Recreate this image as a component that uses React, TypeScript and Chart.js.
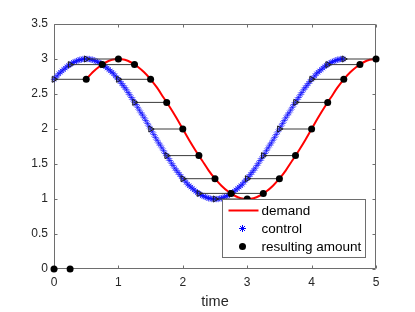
import React, { useEffect, useRef } from "react";
import { Chart, registerables } from "chart.js";

Chart.register(...registerables);

// ---- data ----
const controlStart = 0;
const controlStep = 0.025;
const controlValues = [
  2.71, 2.73, 2.76, 2.79, 2.81, 2.83, 2.85, 2.87, 2.89, 2.91,
  2.92, 2.94, 2.95, 2.96, 2.97, 2.98, 2.99, 2.99, 3.0, 3.0,
  3.0, 3.0, 3.0, 2.99, 2.99, 2.98, 2.97, 2.96, 2.95, 2.94,
  2.92, 2.91, 2.89, 2.87, 2.85, 2.83, 2.81, 2.79, 2.76, 2.73,
  2.71, 2.68, 2.65, 2.62, 2.59, 2.56, 2.52, 2.49, 2.45, 2.42,
  2.38, 2.35, 2.31, 2.27, 2.23, 2.2, 2.16, 2.12, 2.08, 2.04,
  2.0, 1.96, 1.92, 1.88, 1.84, 1.8, 1.77, 1.73, 1.69, 1.65,
  1.62, 1.58, 1.55, 1.51, 1.48, 1.44, 1.41, 1.38, 1.35, 1.32,
  1.29, 1.27, 1.24, 1.21, 1.19, 1.17, 1.15, 1.13, 1.11, 1.09,
  1.08, 1.06, 1.05, 1.04, 1.03, 1.02, 1.01, 1.01, 1.0, 1.0,
  1.0, 1.0, 1.0, 1.01, 1.01, 1.02, 1.03, 1.04, 1.05, 1.06,
  1.08, 1.09, 1.11, 1.13, 1.15, 1.17, 1.19, 1.21, 1.24, 1.27,
  1.29, 1.32, 1.35, 1.38, 1.41, 1.44, 1.48, 1.51, 1.55, 1.58,
  1.62, 1.65, 1.69, 1.73, 1.77, 1.8, 1.84, 1.88, 1.92, 1.96,
  2.0, 2.04, 2.08, 2.12, 2.16, 2.2, 2.23, 2.27, 2.31, 2.35,
  2.38, 2.42, 2.45, 2.49, 2.52, 2.56, 2.59, 2.62, 2.65, 2.68,
  2.71, 2.73, 2.76, 2.79, 2.81, 2.83, 2.85, 2.87, 2.89, 2.91,
  2.92, 2.94, 2.95, 2.96, 2.97, 2.98, 2.99, 2.99, 3.0, 3.0,
  3.0,
];

const demandStart = 0.5;
const demandStep = 0.1;
const demandValues = [
  2.71, 2.81, 2.89, 2.95, 2.99, 3.0, 2.99, 2.95, 2.89, 2.81,
  2.71, 2.59, 2.45, 2.31, 2.16, 2.0, 1.84, 1.69, 1.55, 1.41,
  1.29, 1.19, 1.11, 1.05, 1.01, 1.0, 1.01, 1.05, 1.11, 1.19,
  1.29, 1.41, 1.55, 1.69, 1.84, 2.0, 2.16, 2.31, 2.45, 2.59,
  2.71, 2.81, 2.89, 2.95, 2.99, 3.0,
];

const resultTimes = [
  0, 0.25, 0.5, 0.75, 1, 1.25, 1.5, 1.75, 2, 2.25, 2.5,
  2.75, 3, 3.25, 3.5, 3.75, 4, 4.25, 4.5, 4.75, 5,
];
const resultValues = [
  0, 0, 2.71, 2.92, 3.0, 2.92, 2.71, 2.38, 2.0, 1.62, 1.29,
  1.08, 1.0, 1.08, 1.29, 1.62, 2.0, 2.38, 2.71, 2.92, 3.0,
];
const delay = 0.5;

const xTicks = [0, 1, 2, 3, 4, 5];
const yTicks = [0, 0.5, 1, 1.5, 2, 2.5, 3, 3.5];
const xTickLabels = ["0", "1", "2", "3", "4", "5"];
const yTickLabels = ["0", "0.5", "1", "1.5", "2", "2.5", "3", "3.5"];
const seriesLabels = ["demand", "control", "resulting amount"];
const xTitle = "time";

// ---- styles ----
const FONT = "'Liberation Sans', Arial, Helvetica, sans-serif";
const TEXT = "#262626";
const AXIS = "#6e6e6e";
const RED = "#ff0000";
const BLUE = "#0000ff";
const BLACK = "#000000";
const ARROW = "#3a3a3a";

function drawStar(ctx: CanvasRenderingContext2D, x: number, y: number, r: number) {
  ctx.beginPath();
  for (let k = 0; k < 4; k++) {
    const a = (k * Math.PI) / 4;
    ctx.moveTo(x - r * Math.cos(a), y - r * Math.sin(a));
    ctx.lineTo(x + r * Math.cos(a), y + r * Math.sin(a));
  }
  ctx.stroke();
}

const framePlugin = {
  id: "frame",
  beforeDatasetsDraw(chart: any) {
    const { ctx, chartArea, scales } = chart;
    const { left, right, top, bottom } = chartArea;
    ctx.save();
    ctx.strokeStyle = AXIS;
    ctx.lineWidth = 1;
    const L = Math.round(left) + 0.5;
    const R = Math.round(right) - 0.5;
    const T = Math.round(top) + 0.5;
    const B = Math.round(bottom) - 0.5;
    ctx.beginPath();
    ctx.rect(L, T, R - L, B - T);
    ctx.stroke();
    const tl = 3;
    ctx.beginPath();
    xTicks.forEach((v) => {
      const px = Math.round(scales.x.getPixelForValue(v)) + 0.5;
      ctx.moveTo(px, B);
      ctx.lineTo(px, B - tl);
      ctx.moveTo(px, T);
      ctx.lineTo(px, T + tl);
    });
    yTicks.forEach((v) => {
      const py = Math.round(scales.y.getPixelForValue(v)) + 0.5;
      ctx.moveTo(L, py);
      ctx.lineTo(L + tl, py);
      ctx.moveTo(R, py);
      ctx.lineTo(R - tl, py);
    });
    ctx.stroke();
    ctx.restore();
  },
  afterDraw(chart: any) {
    const { ctx, chartArea } = chart;
    const bx = Math.round(chartArea.right) - 153.5;
    const by = Math.round(chartArea.bottom) - 69.5;
    const bw = 143;
    const bh = 58;
    ctx.save();
    ctx.fillStyle = "#ffffff";
    ctx.fillRect(bx, by, bw, bh);
    ctx.strokeStyle = AXIS;
    ctx.lineWidth = 1;
    ctx.strokeRect(bx, by, bw, bh);
    const rows = [by + 11, by + 29, by + 47];
    const sx = bx + 20;
    ctx.strokeStyle = RED;
    ctx.lineWidth = 2;
    ctx.beginPath();
    ctx.moveTo(bx + 6, rows[0]);
    ctx.lineTo(bx + 36, rows[0]);
    ctx.stroke();
    ctx.strokeStyle = BLUE;
    ctx.lineWidth = 1;
    drawStar(ctx, sx, rows[1], 3.5);
    ctx.fillStyle = BLACK;
    ctx.beginPath();
    ctx.arc(sx, rows[2], 3.5, 0, Math.PI * 2);
    ctx.fill();
    ctx.fillStyle = "#000000";
    ctx.font = `13.5px ${FONT}`;
    ctx.textBaseline = "middle";
    ctx.textAlign = "left";
    seriesLabels.forEach((t, i) => ctx.fillText(t, bx + 39, rows[i] + 0.5));
    ctx.restore();
  },
};

export default function App() {
  const ref = useRef<HTMLCanvasElement | null>(null);

  useEffect(() => {
    if (!ref.current) return;
    document.body.style.margin = "0";

    const controlData = controlValues.map((v, i) => ({
      x: +(controlStart + i * controlStep).toFixed(4),
      y: v,
    }));
    const demandData = demandValues.map((v, i) => ({
      x: +(demandStart + i * demandStep).toFixed(4),
      y: v,
    }));
    const resultData = resultTimes.map((t, i) => ({ x: t, y: resultValues[i] }));

    const arrowSets: any[] = [];
    const arrowStarts: { x: number; y: number }[] = [];
    resultTimes.forEach((t, i) => {
      if (t < delay) return;
      const v = resultValues[i];
      arrowStarts.push({ x: t - delay, y: v });
      arrowSets.push({
        label: "arrow" + i,
        data: [
          { x: t - delay, y: v },
          { x: t, y: v },
        ],
        borderColor: ARROW,
        borderWidth: 1,
        pointRadius: 0,
        showLine: true,
        clip: false,
      });
    });

    const chart = new Chart(ref.current, {
      type: "scatter",
      data: {
        datasets: [
          {
            label: seriesLabels[2],
            data: resultData,
            pointStyle: "circle",
            pointRadius: 3.5,
            backgroundColor: BLACK,
            borderColor: BLACK,
            borderWidth: 0,
            showLine: false,
            clip: false,
          },
          {
            label: "arrowheads",
            data: arrowStarts,
            pointStyle: "triangle",
            rotation: 90,
            pointRadius: 3.5,
            backgroundColor: "rgba(0,0,0,0)",
            borderColor: "#1a1a1a",
            borderWidth: 1,
            showLine: false,
            clip: false,
          },
          ...arrowSets,
          {
            label: seriesLabels[0],
            data: demandData,
            borderColor: RED,
            borderWidth: 2,
            pointRadius: 0,
            showLine: true,
            cubicInterpolationMode: "monotone",
            clip: false,
          },
          {
            label: seriesLabels[1],
            data: controlData,
            pointStyle: "star",
            pointRadius: 3.2,
            borderColor: BLUE,
            backgroundColor: BLUE,
            borderWidth: 0.6,
            showLine: false,
            clip: false,
          },
        ],
      },
      options: {
        responsive: false,
        animation: false,
        devicePixelRatio: 1,
        events: [],
        layout: { padding: { left: 0, right: 39, top: 24, bottom: 0 } },
        plugins: {
          legend: { display: false },
          tooltip: { enabled: false },
        },
        scales: {
          x: {
            type: "linear",
            min: 0,
            max: 5,
            afterFit: (s: any) => {
              s.height = 43;
            },
            afterBuildTicks: (s: any) => {
              s.ticks = xTicks.map((v) => ({ value: v }));
            },
            grid: { display: false, drawTicks: false },
            border: { display: false },
            ticks: {
              padding: 6,
              color: TEXT,
              font: { family: FONT, size: 12 },
              maxRotation: 0,
              autoSkip: false,
              callback: (v: any) => xTickLabels[xTicks.indexOf(Number(v))] ?? "",
            },
            title: {
              display: true,
              text: xTitle,
              color: TEXT,
              font: { family: FONT, size: 14.5 },
              padding: { top: 0, bottom: 1 },
            },
          },
          y: {
            type: "linear",
            min: 0,
            max: 3.5,
            afterFit: (s: any) => {
              s.width = 54;
            },
            afterBuildTicks: (s: any) => {
              s.ticks = yTicks.map((v) => ({ value: v }));
            },
            grid: { display: false, drawTicks: false },
            border: { display: false },
            ticks: {
              padding: 6,
              color: TEXT,
              font: { family: FONT, size: 12 },
              autoSkip: false,
              callback: (v: any) => yTickLabels[yTicks.indexOf(Number(v))] ?? "",
            },
          },
        },
      },
      plugins: [framePlugin],
    } as any);

    return () => chart.destroy();
  }, []);

  return (
    <div style={{ position: "fixed", left: 0, top: 0, width: 415, height: 312, background: "#fff" }}>
      <canvas ref={ref} width={415} height={312} style={{ width: 415, height: 312, display: "block" }} />
    </div>
  );
}
